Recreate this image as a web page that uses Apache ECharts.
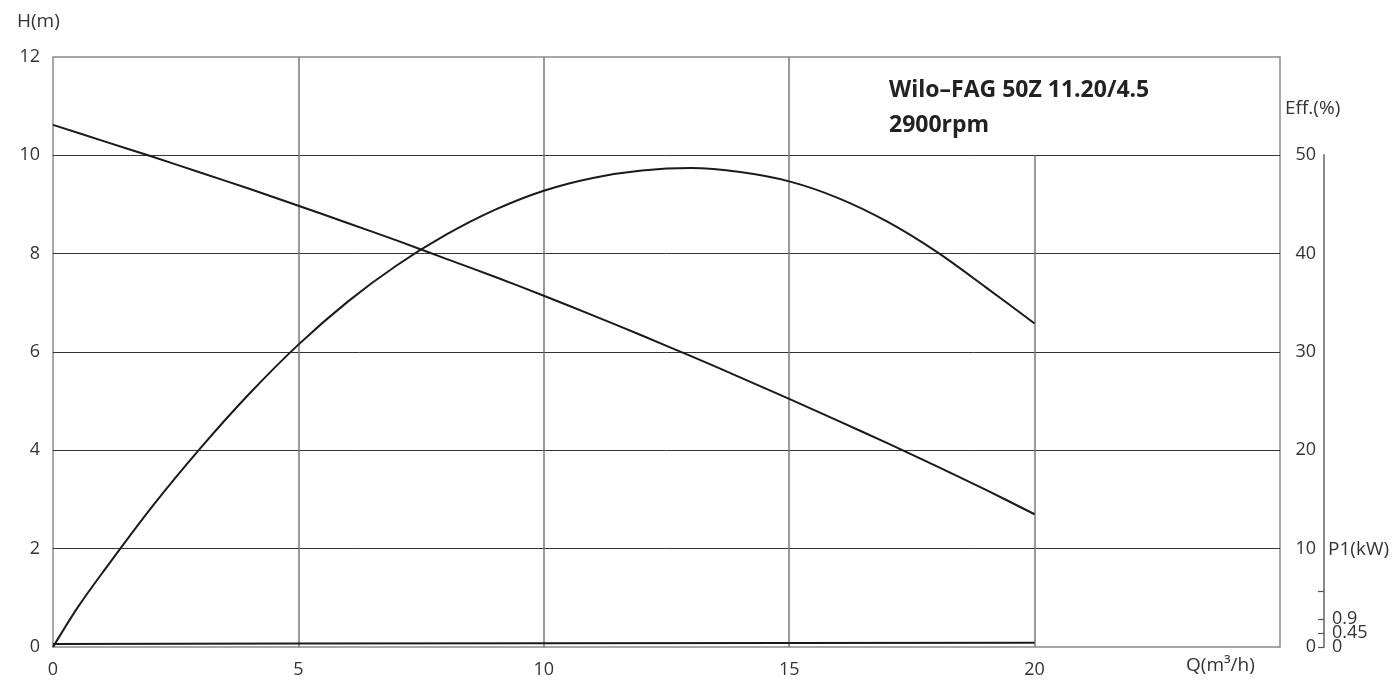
<!DOCTYPE html>
<html>
<head>
<meta charset="utf-8">
<script src="https://cdn.jsdelivr.net/npm/echarts@6/dist/echarts.min.js"></script>
<style>html,body{margin:0;padding:0;background:#fff;}#c{width:1398px;height:685px;}</style>
</head>
<body>
<div id="c"></div>
<script>
// Flow rate Q (m³/h) sample points
const qHead = [0, 1, 2, 3, 4, 5, 6, 7, 8, 9, 10, 11, 12, 13, 14, 15, 16, 17, 18, 19, 20];
const head  = [10.62, 10.30, 9.98, 9.65, 9.32, 8.975, 8.625, 8.27, 7.90, 7.53, 7.145, 6.745, 6.335, 5.915, 5.485, 5.045, 4.60, 4.145, 3.68, 3.20, 2.70];

const qEff = [0, 0.5, 1, 2, 3, 4, 5, 6, 7, 8, 9, 10, 11, 12, 13, 14, 15, 16, 17, 18, 19, 20];
const eff  = [0, 4.0, 7.5, 14.15, 20.2, 25.75, 30.75, 35.1, 38.8, 41.9, 44.45, 46.4, 47.7, 48.45, 48.7, 48.3, 47.35, 45.65, 43.25, 40.2, 36.6, 32.9];

const qP1 = [0, 5, 10, 15, 20];
const p1  = [0.10, 0.11, 0.12, 0.13, 0.14];

const xTicks = [0, 5, 10, 15, 20];
const effTicks = [0, 10, 20, 30, 40, 50];
const p1TickMarks = [0, 0.45, 0.9, 1.8];
const p1LabelsA = [0, 0.9];
const p1LabelsB = [0.45];
const p1Max = 19;

const title1 = 'Wilo–FAG 50Z 11.20/4.5';
const title2 = '2900rpm';

const FONT = '"Open Sans", "Noto Sans", sans-serif';
const TXT = '#333';
const zip = (xs, ys) => xs.map((x, i) => [x, ys[i]]);
const LBL = {fontSize: 18, color: TXT, fontFamily: FONT, hideOverlap: false, showMinLabel: true, showMaxLabel: true};

const chart = echarts.init(document.getElementById('c'), null, {renderer: 'canvas'});
chart.setOption({
  animation: false,
  backgroundColor: '#fff',
  grid: [
    {left: 53, top: 57, width: 1227, height: 590, show: true, borderColor: '#8a8a8a', borderWidth: 1.5, containLabel: false},
    {left: 1280, top: 155, width: 44, height: 492, show: false, containLabel: false}
  ],
  xAxis: [
    {type: 'value', gridIndex: 0, min: 0, max: 25, interval: 5,
     axisLine: {show: false}, axisTick: {show: false}, splitLine: {show: false},
     axisLabel: Object.assign({customValues: xTicks, margin: 14}, LBL)},
    {type: 'value', gridIndex: 1, min: 0, max: 1, show: false}
  ],
  yAxis: [
    {type: 'value', gridIndex: 0, min: 0, max: 12, interval: 2,
     axisLine: {show: false}, axisTick: {show: false},
     splitLine: {show: true, showMinLine: false, showMaxLine: false, lineStyle: {color: '#333', width: 1}},
     axisLabel: Object.assign({margin: 13}, LBL)},
    {type: 'value', gridIndex: 0, position: 'right', offset: 44, min: 0, max: 60, interval: 10,
     axisLine: {show: false}, axisTick: {show: false}, splitLine: {show: false},
     axisLabel: Object.assign({inside: true, customValues: effTicks, margin: 8}, LBL)},
    {type: 'value', gridIndex: 0, position: 'right', offset: 44, min: 0, max: p1Max,
     axisLine: {show: false}, splitLine: {show: false},
     axisTick: {show: true, inside: true, length: 6, customValues: p1TickMarks, lineStyle: {color: '#555', width: 1.2}},
     axisLabel: Object.assign({customValues: p1LabelsA, margin: 8}, LBL)},
    {type: 'value', gridIndex: 0, position: 'right', offset: 44, min: 0, max: p1Max,
     axisLine: {show: false}, splitLine: {show: false}, axisTick: {show: false},
     axisLabel: Object.assign({customValues: p1LabelsB, margin: 8}, LBL)},
    {type: 'value', gridIndex: 1, position: 'right', min: 0, max: 1,
     axisLine: {show: true, onZero: false, lineStyle: {color: '#8a8a8a', width: 2}},
     axisTick: {show: false}, axisLabel: {show: false}, splitLine: {show: false}}
  ],
  series: [
    {type: 'line', name: 'H', xAxisIndex: 0, yAxisIndex: 0, data: zip(qHead, head), smooth: 0.3,
     symbol: 'none', lineStyle: {color: '#1a1a1a', width: 2}, z: 5,
     markLine: {silent: true, symbol: 'none', label: {show: false},
       lineStyle: {color: '#7a7a7a', width: 1.5, type: 'solid'},
       data: [{xAxis: 5}, {xAxis: 10}, {xAxis: 15}, [{coord: [20, 0]}, {coord: [20, 10]}]]}},
    {type: 'line', name: 'Eff', xAxisIndex: 0, yAxisIndex: 1, data: zip(qEff, eff), smooth: 0.3,
     symbol: 'none', lineStyle: {color: '#1a1a1a', width: 2}, z: 5},
    {type: 'line', name: 'P1', xAxisIndex: 0, yAxisIndex: 2, data: zip(qP1, p1), smooth: false,
     symbol: 'none', lineStyle: {color: '#1a1a1a', width: 2}, z: 5}
  ],
  graphic: [
    {type: 'text', left: 17, top: 12, style: {text: 'H(m)', font: '19px ' + FONT, fill: TXT}},
    {type: 'text', left: 1285, top: 99, style: {text: 'Eff.(%)', font: '19px ' + FONT, fill: TXT}},
    {type: 'text', left: 1328, top: 540, style: {text: 'P1(kW)', font: '19px ' + FONT, fill: TXT}},
    {type: 'text', left: 1186, top: 656, style: {text: 'Q(m³/h)', font: '19px ' + FONT, fill: TXT}},
    {type: 'text', left: 889, top: 79, style: {text: title1, font: 'bold 23px ' + FONT, fill: '#222'}},
    {type: 'text', left: 889, top: 114, style: {text: title2, font: 'bold 23px ' + FONT, fill: '#222'}}
  ]
});
</script>
</body>
</html>
